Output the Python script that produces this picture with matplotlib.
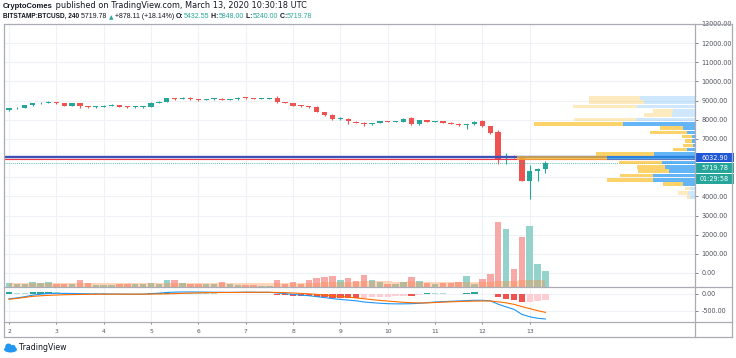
import matplotlib
matplotlib.use('Agg')
import matplotlib.pyplot as plt
from matplotlib.patches import Rectangle, Ellipse, Circle
from matplotlib.lines import Line2D

W, H = 736, 358

#######################
#
# Data  (BITSTAMP:BTCUSD 4h candles, Mar 2 00:00 -> Mar 13 08:00 UTC)

opens = [8500, 8590, 8610, 8760, 8850, 8890, 8920, 8870, 8730, 8860,
         8700, 8660, 8680, 8740, 8770, 8690, 8660, 8680, 8690, 8880,
         8950, 9120, 9080, 9150, 9060, 9030, 9070, 9110, 9030, 9070,
         9150, 9130, 9090, 9110, 9130, 8920, 8880, 8730, 8700, 8690,
         8400, 8270, 8030, 8060, 7890, 7850, 7760, 7830, 7910, 7890,
         7890, 8080, 7770, 7990, 7900, 7910, 7850, 7790, 7720, 7760,
         7950, 7650, 7380, 5990, 6100, 6040, 4820, 5340, 5432.55]
highs = [8620, 8650, 8790, 8890, 8930, 8990, 8950, 8890, 8900, 8880,
         8720, 8720, 8770, 8800, 8790, 8710, 8710, 8740, 8910, 8990,
         9150, 9160, 9170, 9190, 9080, 9100, 9130, 9150, 9100, 9170,
         9180, 9150, 9140, 9150, 9250, 8940, 8900, 8760, 8730, 8710,
         8420, 8290, 8160, 8080, 7910, 7880, 7850, 7940, 7930, 7920,
         8080, 8140, 8010, 8010, 7940, 7930, 7870, 7810, 7790, 7930,
         7970, 7680, 7450, 6280, 6170, 6060, 5640, 5470, 5848.00]
lows = [8470, 8560, 8590, 8730, 8820, 8870, 8800, 8700, 8710, 8620,
        8630, 8640, 8660, 8720, 8670, 8620, 8640, 8600, 8680, 8860,
        8930, 9050, 9060, 9040, 8990, 9010, 9050, 9010, 9010, 9050,
        9100, 9070, 9070, 9090, 8900, 8850, 8700, 8670, 8620, 8380,
        8180, 8000, 8010, 7780, 7820, 7700, 7720, 7810, 7870, 7870,
        7880, 7750, 7750, 7880, 7880, 7830, 7770, 7700, 7520, 7740,
        7600, 7280, 5700, 5680, 5990, 4780, 3850, 4820, 5240.00]
closes = [8590, 8610, 8760, 8850, 8890, 8920, 8870, 8730, 8860, 8700,
          8660, 8680, 8740, 8770, 8690, 8660, 8680, 8690, 8880, 8950,
          9120, 9080, 9150, 9060, 9030, 9070, 9100, 9030, 9070, 9150,
          9130, 9090, 9110, 9130, 8920, 8880, 8730, 8700, 8690, 8400,
          8270, 8030, 8060, 7940, 7830, 7760, 7830, 7910, 7890, 7895,
          8060, 7770, 7990, 7900, 7910, 7850, 7790, 7720, 7760, 7900,
          7650, 7310, 5900, 6100, 6040, 4820, 5340, 5430, 5719.78]

volume = [2000, 1650, 1650, 2650, 2000, 2650, 1500, 1350, 1500, 3350,
          1850, 1000, 1000, 1000, 1650, 1650, 1350, 1350, 2000, 1350,
          3350, 3350, 2000, 1650, 1350, 1350, 1350, 2650, 1350, 1000,
          1000, 1000, 650, 650, 3350, 1650, 2650, 1350, 3650, 4350,
          5000, 5350, 3650, 4350, 3000, 5850, 3350, 2500, 1650, 1650,
          2500, 5000, 3000, 2000, 1350, 2000, 2150, 2350, 5350, 1650,
          3850, 6350, 32500, 28850, 9000, 25000, 30500, 11500, 8150]
volume_ma = [1900, 1900, 1900, 1900, 1900, 1900, 1900, 1900, 1900, 1900,
             1850, 1850, 1850, 1850, 1850, 1850, 1850, 1850, 1850, 1850,
             1900, 1900, 1900, 1900, 1900, 1900, 1900, 1900, 1900, 1900,
             1800, 1800, 1800, 1800, 1900, 1950, 2000, 2000, 2100, 2200,
             2350, 2500, 2550, 2650, 2650, 2800, 2850, 2850, 2800, 2750,
             2750, 2800, 2750, 2700, 2600, 2500, 2450, 2400, 2500, 2400,
             2400, 2500, 2800, 3000, 3100, 3300, 3500, 3600, 3700]

macd_line = [-140, -115, -80, -35, -5, 15, 20, 18, 15, 10,
             5, 2, 0, 0, -2, -5, -6, -5, 10, 25,
             45, 55, 60, 60, 58, 55, 52, 50, 48, 50,
             55, 52, 50, 50, 30, 12, -12, -32, -50, -78,
             -105, -135, -160, -180, -200, -235, -255, -272, -285, -290,
             -290, -285, -275, -255, -235, -225, -215, -205, -195, -185,
             -186, -200, -300, -380, -450, -600, -670, -715, -735]
signal_line = [-155, -130, -100, -70, -52, -40, -30, -22, -17, -13,
               -10, -8, -6, -5, -5, -5, -5, -5, -3, 0,
               5, 12, 20, 27, 33, 38, 42, 45, 46, 47,
               49, 50, 50, 50, 46, 40, 30, 18, 5, -10,
               -30, -50, -72, -93, -115, -140, -165, -188, -208, -225,
               -245, -255, -262, -262, -250, -240, -230, -222, -215, -210,
               -206, -205, -230, -260, -305, -370, -430, -490, -540]
macd_hist = [45, 40, 35, 60, 70, 72, 45, 35, 30, 25,
             20, 18, 15, 12, 10, 8, 5, 3, 15, 30,
             45, 40, 35, 30, 25, 20, 15, 10, 8, 6,
             5, 3, 2, 1, -15, -30, -45, -55, -60, -75,
             -90, -110, -115, -120, -125, -110, -100, -90, -75, -60,
             -45, -50, -35, 20, 18, 15, 12, 10, 35, 45,
             10, 3, -90, -150, -170, -250, -240, -210, -190]

day_labels = ['2', '3', '4', '5', '6', '7', '8', '9', '10', '11', '12', '13']
price_ticks = [0, 1000, 2000, 3000, 4000, 5000, 6000, 7000, 8000, 9000,
               10000, 11000, 12000, 13000]
macd_ticks = [0, -500]

# visible range volume profile (row price, up vol, down vol, inside value area)
vp_price = [9140, 8915, 8690, 8465, 8240, 8015, 7790, 7565, 7340, 7115, 6890, 6665,
            6440, 6215, 5990, 5765, 5540, 5315, 5090, 4865, 4640, 4415, 4190, 3965]
vp_up = [5500, 5100, 5800, 2200, 2300, 5900, 7200, 1200, 800, 300, 300, 200,
         800, 4100, 8800, 3300, 3000, 2600, 4200, 4200, 1200, 500, 700, 500]
vp_down = [5100, 5500, 6400, 2000, 2800, 6200, 8900, 2300, 3700, 1000, 700, 1000,
           1400, 5800, 9000, 4300, 2800, 3100, 3300, 4600, 2000, 500, 1000, 300]
vp_value_area = [False] * 6 + [True] * 15 + [False] * 3

level_blue = 6032.90
level_red = 5936
last_price = 5719.78

up_col = '#26a69a'
dn_col = '#ef5350'
grid_col = '#eef1f6'
txt_col = '#50535e'
frame_col = '#a9acb5'
dark = '#131722'

#######################
#
# Figure

plt.rcParams['font.family'] = 'DejaVu Sans'
fig = plt.figure(figsize=(W / 100, H / 100), dpi=100)
fig.patch.set_facecolor('white')

def px_rect(x0, y0, x1, y1):
    return [x0 / W, 1 - y1 / H, (x1 - x0) / W, (y1 - y0) / H]

x = list(range(len(closes)))
day_pos = [6 * k for k in range(len(day_labels))]
xlim = (-0.7, 86.95)

### price pane
ax = fig.add_axes(px_rect(3.5, 24, 695, 287))
axv = ax.twinx()
axp = ax.twiny()

ax.set_xlim(*xlim)
ax.set_ylim(-731, 13000)
ax.set_xticks(day_pos)
ax.tick_params(axis='x', length=0, labelbottom=False, labeltop=False)
ax.set_yticks(price_ticks)
ax.set_yticklabels(['' if p in (5000, 6000) else '%.2f' % p for p in price_ticks])
ax.yaxis.tick_right()
ax.tick_params(axis='y', labelsize=4.7, colors=txt_col, length=2.5, width=0.5, pad=2,
               left=False, labelleft=False, right=True, labelright=True)
ax.grid(True, color=grid_col, lw=0.8)
ax.set_axisbelow(True)
for s in ax.spines.values():
    s.set_visible(False)

for i in x:
    col = up_col if closes[i] >= opens[i] else dn_col
    ax.vlines(i, lows[i], highs[i], color=col, lw=0.8, zorder=2)
    bot = min(opens[i], closes[i])
    hgt = max(abs(closes[i] - opens[i]), 50)
    ax.bar(i, hgt, bottom=bot, width=0.68, color=col, zorder=2.5, lw=0)

ax.axhline(level_blue, color='#3f51b5', lw=1.7, zorder=3)
ax.axhline(level_red, color='#f23645', lw=0.8, zorder=3)
ax.axhline(last_price, color=up_col, lw=0.6, ls=(0, (1, 1.5)), zorder=3)

### volume overlay
axv.set_ylim(0, 263 * 500)
axv.set_xlim(*xlim)
vcols = ['#93d3cb' if closes[i] >= opens[i] else '#f7a9a8' for i in x]
axv.bar(x, volume, width=0.82, color=vcols, lw=0)
axv.fill_between(x, 0, volume_ma, step='mid', color='#ff8a3d', alpha=0.35, lw=0)
axv.set_axis_off()

### volume profile
axp.set_xlim(691 * 100, 0)
for p, u, d, va in zip(vp_price, vp_up, vp_down, vp_value_area):
    a_b = 0.7 if va else 0.22
    a_y = 0.7 if va else 0.3
    axp.barh(p, u, left=0, height=185, color='#2196f3', alpha=a_b, lw=0)
    axp.barh(p, d, left=u, height=185, color='#fbc02d', alpha=a_y, lw=0)
axp.set_axis_off()

### MACD pane
axm = fig.add_axes(px_rect(3.5, 287, 695, 322))
axm.set_xlim(*xlim)
axm.set_ylim(-824, 206)
hcols = []
for i in x:
    prev = macd_hist[i - 1] if i > 0 else 0
    v = macd_hist[i]
    if v >= 0:
        hcols.append('#26a69a' if v >= prev else '#b2dfdb')
    else:
        hcols.append('#ef5350' if v <= prev else '#ffcdd2')
axm.bar(x, macd_hist, width=0.8, color=hcols, lw=0, zorder=2)
axm.plot(x, macd_line, color='#2196f3', lw=0.8, zorder=3)
axm.plot(x, signal_line, color='#ff6d00', lw=0.8, zorder=3)
axm.set_xticks(day_pos)
axm.set_xticklabels(day_labels)
axm.yaxis.tick_right()
axm.set_yticks(macd_ticks)
axm.set_yticklabels(['0.00', '-500.00'])
axm.tick_params(axis='y', labelsize=4.7, colors=txt_col, length=2.5, width=0.5, pad=2)
axm.tick_params(axis='x', labelsize=4.3, colors=txt_col, length=1.5, width=0.5, pad=3.5)
axm.grid(True, color=grid_col, lw=0.8)
axm.set_axisbelow(True)
for s in axm.spines.values():
    s.set_visible(False)

#######################
#
# Overlay: frame, price labels, header

ov = fig.add_axes([0, 0, 1, 1])
ov.set_xlim(0, W)
ov.set_ylim(H, 0)
ov.set_axis_off()

for (x0, y0, x1, y1) in [(3.5, 24, 732, 24), (3.5, 337, 732, 337), (3.5, 24, 3.5, 337),
                         (732, 24, 732, 337), (695, 24, 695, 337),
                         (3.5, 287, 732, 287), (3.5, 322, 732, 322)]:
    ov.add_line(Line2D([x0, x1], [y0, y1], color=frame_col, lw=0.9))

def price_px(p):
    return H - ax.transData.transform((0, p))[1]

yb = price_px(level_blue)
boxes = [(yb, '%.2f' % level_blue, '#2157d6'),
         (yb + 10.7, '%.2f' % last_price, up_col),
         (yb + 21.4, '01:29:58', up_col)]
for yc, label, col in boxes:
    ov.add_patch(Rectangle((696, yc - 4.8), 38, 9.6, color=col, lw=0, clip_on=False))
    ov.text(714.5, yc + 0.2, label, color='white', fontsize=4.7, ha='center', va='center')

def chain(parts, x0, y0):
    prev = None
    for s, col, wt, fam, size in parts:
        if prev is None:
            prev = ov.text(x0, y0, s, color=col, fontsize=size, fontweight=wt,
                           family=fam, ha='left', va='baseline')
        else:
            prev = ov.annotate(s, xy=(1, 0), xycoords=prev, color=col, fontsize=size,
                               fontweight=wt, family=fam, ha='left', va='bottom')
    return prev

DJ = 'DejaVu Sans'
LB = 'Liberation Sans'
chain([('CryptoComes', dark, 'bold', LB, 5.5),
       (' published on TradingView.com, March 13, 2020 10:30:18 UTC', dark, 'normal', DJ, 5.85)],
      3, 8.5)
s2 = 5.0
chain([('BITSTAMP:BTCUSD, 240', dark, 'bold', LB, 4.7),
       (' 5719.78 ', dark, 'normal', LB, s2),
       ('\u25B2', up_col, 'normal', DJ, 4.2),
       (' +878.11 (+18.14%) ', dark, 'normal', LB, s2),
       ('O:', dark, 'bold', LB, s2), ('5432.55', up_col, 'normal', LB, s2),
       (' H:', dark, 'bold', LB, s2), ('5848.00', up_col, 'normal', LB, s2),
       (' L:', dark, 'bold', LB, s2), ('5240.00', up_col, 'normal', LB, s2),
       (' C:', dark, 'bold', LB, s2), ('5719.78', up_col, 'normal', LB, s2)],
      3, 17.8)

# TradingView logo
logo = '#2196f3'
ov.add_patch(Ellipse((10.5, 349.5), 13, 6, color=logo, lw=0))
ov.add_patch(Circle((8.5, 346.8), 3.3, color=logo, lw=0))
ov.add_patch(Circle((13, 347.5), 2.6, color=logo, lw=0))
ov.text(19, 347.5, 'TradingView', color=dark, fontsize=5.6, ha='left', va='center')

plt.savefig('out.png', dpi=100)
plt.close()
